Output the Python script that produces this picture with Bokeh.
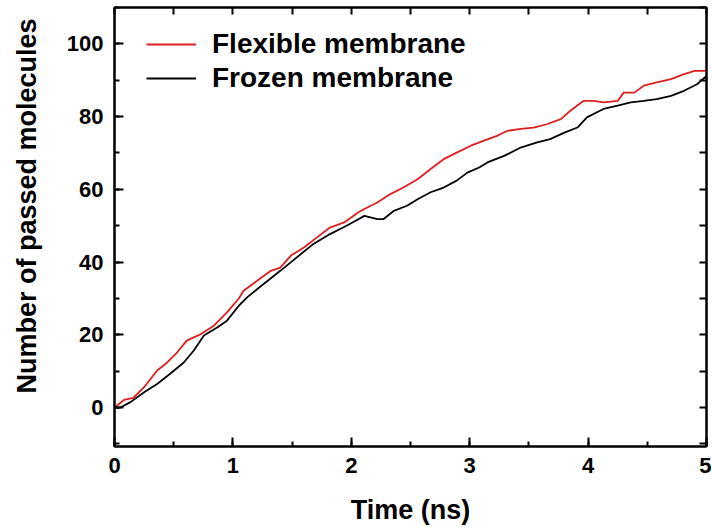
import math
from bokeh.plotting import figure
from bokeh.models import (Range1d, LinearAxis, SingleIntervalTicker, Legend, LegendItem,
                          Title, CustomJSTickFormatter)
from bokeh.embed import file_html
from bokeh.resources import INLINE

# Data
t_flex = [0, 0.08, 0.16, 0.25, 0.36, 0.445, 0.53, 0.61, 0.73, 0.84, 0.95, 1.05, 1.09, 1.205,
          1.32, 1.40, 1.49, 1.60, 1.71, 1.82, 1.94, 2.06, 2.11, 2.22, 2.33, 2.44, 2.56, 2.67,
          2.78, 2.89, 3.01, 3.12, 3.23, 3.32, 3.43, 3.54, 3.65, 3.77, 3.85, 3.96, 4.05, 4.13,
          4.25, 4.30, 4.39, 4.47, 4.58, 4.70, 4.81, 4.90, 5.0]
v_flex = [0, 2.1, 2.7, 5.6, 10.2, 12.4, 15.2, 18.4, 20.2, 22.5, 26.2, 30.0, 32.1, 34.9,
          37.6, 38.5, 41.8, 44.0, 46.8, 49.5, 50.9, 53.7, 54.6, 56.4, 58.7, 60.5, 62.8, 65.6,
          68.3, 70.1, 72.0, 73.4, 74.7, 76.1, 76.6, 77.0, 77.9, 79.3, 81.6, 84.3, 84.3, 83.9,
          84.3, 86.6, 86.6, 88.5, 89.4, 90.3, 91.7, 92.6, 92.6]

t_froz = [0, 0.05, 0.135, 0.25, 0.36, 0.47, 0.585, 0.67, 0.755, 0.87, 0.95, 1.05, 1.12, 1.26,
          1.40, 1.54, 1.68, 1.82, 1.96, 2.06, 2.11, 2.22, 2.27, 2.36, 2.47, 2.56, 2.67, 2.78,
          2.89, 2.98, 3.08, 3.15, 3.29, 3.43, 3.57, 3.68, 3.80, 3.91, 3.99, 4.10, 4.13, 4.25,
          4.36, 4.47, 4.58, 4.70, 4.81, 4.92, 5.0]
v_froz = [0, 0, 1.5, 4.2, 6.5, 9.3, 12.4, 15.7, 19.8, 22.1, 23.9, 28.0, 30.3, 34.0,
          37.6, 41.3, 45.0, 47.7, 50.0, 51.8, 52.7, 51.8, 51.8, 54.1, 55.5, 57.3, 59.2, 60.5,
          62.4, 64.6, 66.0, 67.4, 69.2, 71.5, 72.9, 73.8, 75.6, 77.0, 79.8, 81.6, 82.1, 83.0,
          83.9, 84.3, 84.8, 85.7, 87.1, 88.9, 91.2]

series_names = ["Flexible membrane", "Frozen membrane"]
x_label = "Time (ns)"
y_label = "Number of passed molecules"

FONT = "Liberation Sans"

p = figure(frame_width=592, frame_height=439, output_backend="svg", toolbar_location=None,
           x_range=Range1d(0, 5), y_range=Range1d(-10.7, 110),
           min_border_left=114, min_border_right=5, min_border_top=7, min_border_bottom=0)
p.xgrid.visible = False
p.ygrid.visible = False
p.outline_line_color = "black"
p.outline_line_width = 2
p.background_fill_color = "white"
p.border_fill_color = "white"

r1 = p.line(t_flex, v_flex, line_color="#dc1f1f", line_width=1.8)
r2 = p.line(t_froz, v_froz, line_color="black", line_width=1.8)

xa = p.xaxis[0]
xa.ticker = SingleIntervalTicker(interval=1, num_minor_ticks=2)
ya = p.yaxis[0]
ya.ticker = SingleIntervalTicker(interval=20, num_minor_ticks=2)
for ax in (xa, ya):
    ax.axis_line_width = 2
    ax.major_tick_line_width = 2
    ax.minor_tick_line_width = 2
    ax.major_tick_in = 9
    ax.major_tick_out = 0
    ax.minor_tick_in = 5
    ax.minor_tick_out = 0
    ax.major_label_text_font = FONT
    ax.major_label_text_font_style = "bold"
    ax.major_label_text_font_size = "22px"
    ax.major_label_text_color = "black"
    ax.axis_label_text_font = FONT
    ax.axis_label_text_font_style = "bold"
    ax.axis_label_text_font_size = "27px"
    ax.axis_label_text_color = "black"
xa.major_label_standoff = 11
xa.axis_label = x_label
xa.axis_label_standoff = 19
ya.major_label_standoff = 11

# invisible spacer axis that pushes the y title outward
spacer = LinearAxis(ticker=SingleIntervalTicker(interval=1000, num_minor_ticks=0),
                    axis_line_color=None, major_tick_line_color=None,
                    minor_tick_line_color=None, major_tick_in=0, major_tick_out=22,
                    major_label_standoff=0, formatter=CustomJSTickFormatter(code="return ''"))
p.add_layout(spacer, "left")

# y title placed a little above the frame centre, as in the reference
ytitle = Title(text=y_label, align="right", offset=11, standoff=0, vertical_align="bottom",
               text_font=FONT, text_font_style="bold", text_font_size="27px",
               text_color="black")
p.add_layout(ytitle, "left")

# top and right axes: inward ticks only, no labels
top = LinearAxis(ticker=SingleIntervalTicker(interval=0.5, num_minor_ticks=0))
right = LinearAxis(ticker=SingleIntervalTicker(interval=10, num_minor_ticks=0))
for ax in (top, right):
    ax.axis_line_width = 2
    ax.major_tick_line_width = 2
    ax.major_tick_in = 7
    ax.major_tick_out = 0
    ax.minor_tick_line_color = None
    ax.formatter = CustomJSTickFormatter(code="return ''")
    ax.major_label_standoff = 0
p.add_layout(top, "above")
p.add_layout(right, "right")

legend = Legend(items=[LegendItem(label=series_names[0], renderers=[r1]),
                       LegendItem(label=series_names[1], renderers=[r2])],
                location=(32, 352), padding=0, margin=0, spacing=2,
                glyph_width=50, glyph_height=32, label_height=32, label_standoff=16,
                label_text_font=FONT, label_text_font_style="bold",
                label_text_font_size="28px", label_text_color="black",
                border_line_color=None, background_fill_alpha=0)
p.add_layout(legend)

open("out.html", "w").write(file_html(p, INLINE))
